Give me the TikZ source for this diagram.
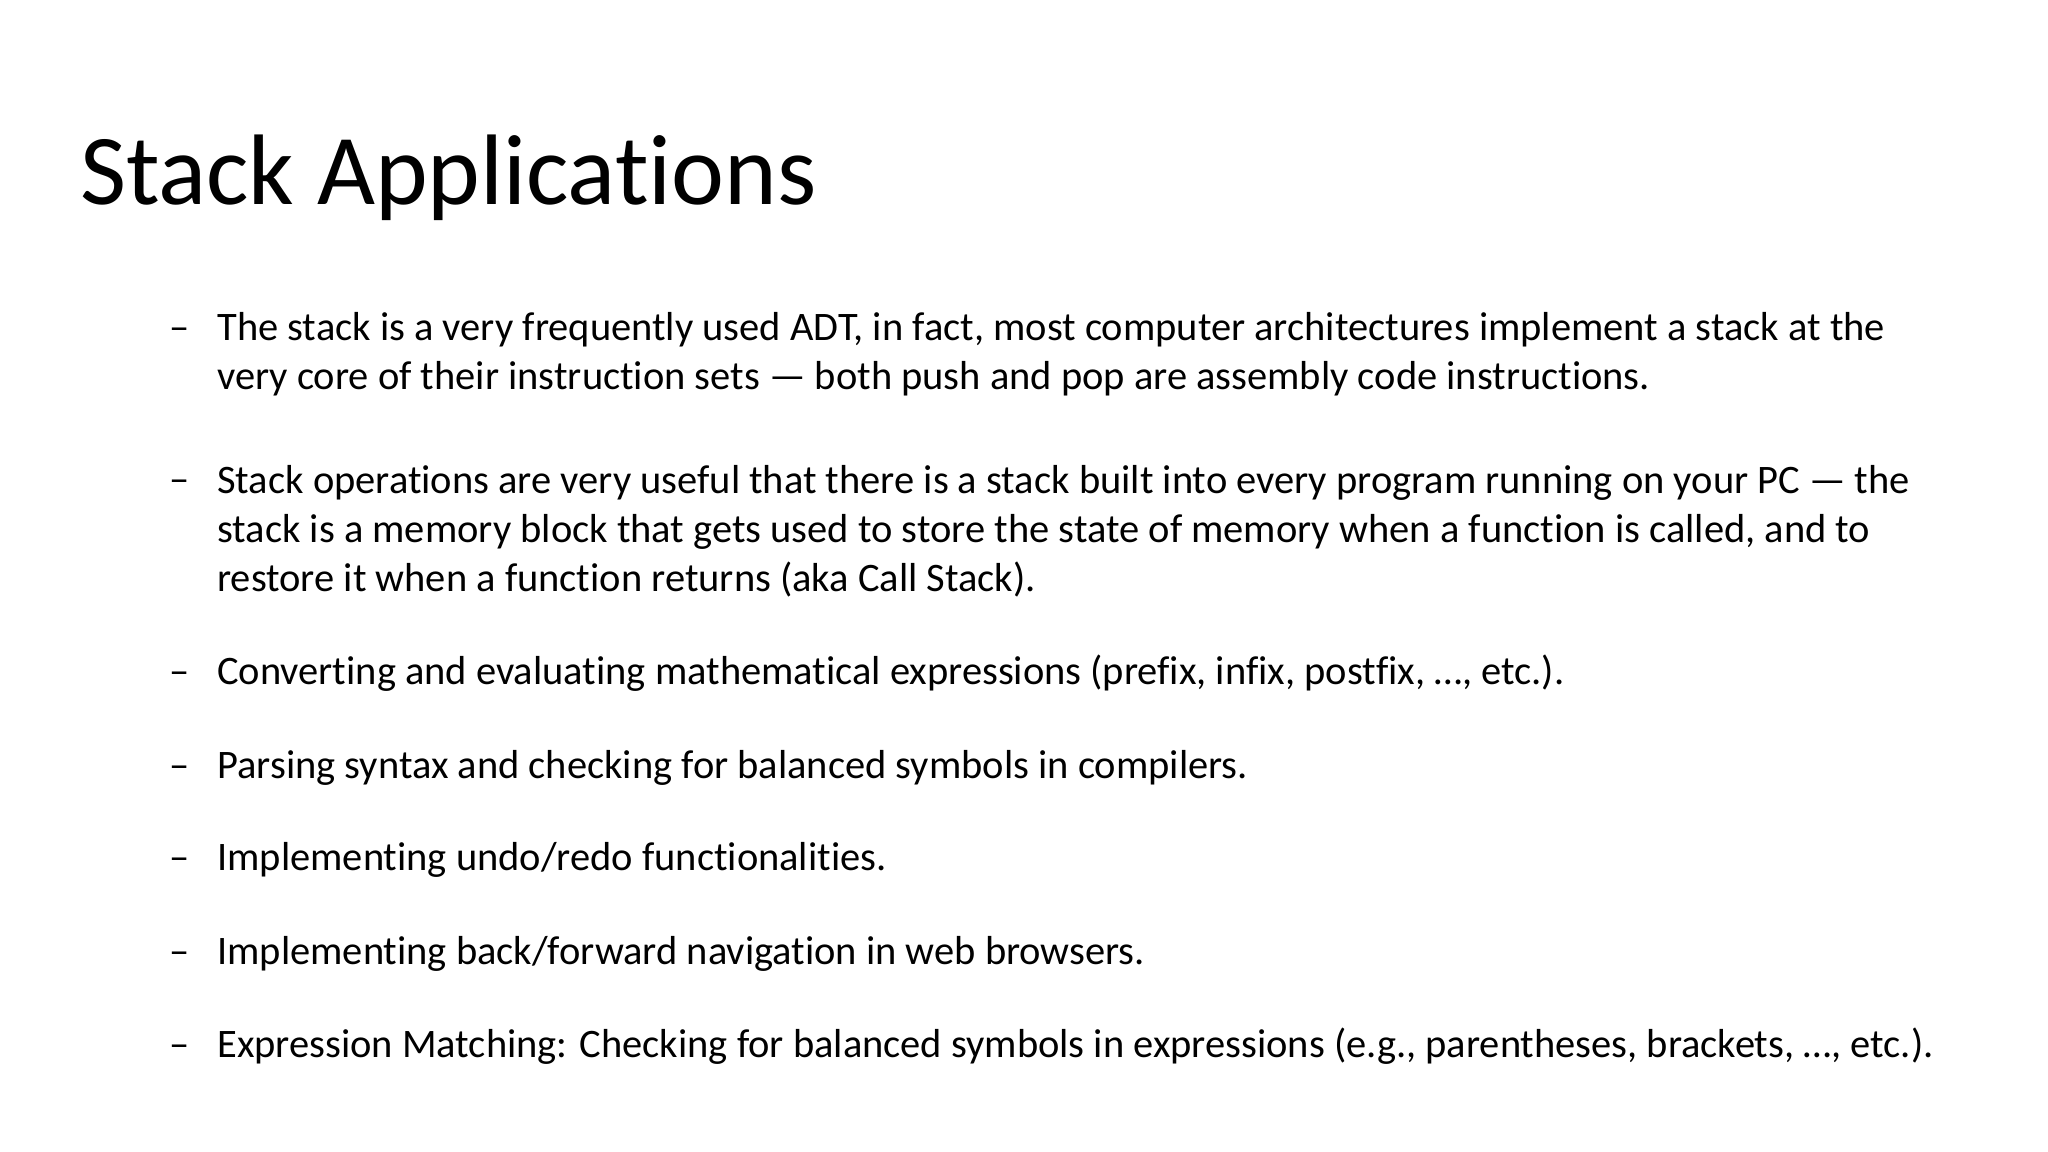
\documentclass[tikz,border=0pt]{standalone}
\usepackage{fontspec}
\setmainfont[Ligatures=NoCommon]{Carlito}
\usetikzlibrary{positioning}
\tikzset{slidetitle/.style={anchor=base west,inner sep=0pt,font=\fontsize{21.6pt}{26pt}\selectfont}}
\tikzset{itemtext/.style={anchor=base west,inner sep=0pt,align=left,font=\fontsize{8.72pt}{10.55pt}\selectfont}}
\tikzset{itemdash/.style={anchor=base west,inner sep=0pt,font=\fontsize{8.72pt}{10.55pt}\selectfont}}

\begin{document}
\begin{tikzpicture}[x=0.01cm,y=-0.01cm]
        \useasboundingbox (0,0) rectangle (1552,873);

        \node[slidetitle] (title) at (60,155) {Stack Applications};

        % multi-line items are placed by the baseline of their last line
        \node[itemtext] (itemA) at (164,295) {The stack is a very frequently used ADT, in fact, most computer architectures implement a stack at the\\very core of their instruction sets — both push and pop are assembly code instructions.};
        \node[itemtext] (itemB) at (164,448) {Stack operations are very useful that there is a stack built into every program running on your PC — the\\stack is a memory block that gets used to store the state of memory when a function is called, and to\\restore it when a function returns (aka Call Stack).};
        \node[itemtext] (itemC) at (164,519) {Converting and evaluating mathematical expressions (prefix, infix, postfix, …, etc.).};
        \node[itemtext] (itemD) at (164,590) {Parsing syntax and checking for balanced symbols in compilers.};
        \node[itemtext] (itemE) at (164,660) {Implementing undo/redo functionalities.};
        \node[itemtext] (itemF) at (164,731) {Implementing back/forward navigation in web browsers.};
        \node[itemtext] (itemG) at (164,801) {Expression Matching: Checking for balanced symbols in expressions (e.g., parentheses, brackets, …, etc.).};

        \node[itemdash] (dashA) at (128,258) {–};
        \node[itemdash] (dashB) at (128,373) {–};
        \node[itemdash] (dashC) at (128,519) {–};
        \node[itemdash] (dashD) at (128,590) {–};
        \node[itemdash] (dashE) at (128,660) {–};
        \node[itemdash] (dashF) at (128,731) {–};
        \node[itemdash] (dashG) at (128,801) {–};
\end{tikzpicture}
\end{document}
